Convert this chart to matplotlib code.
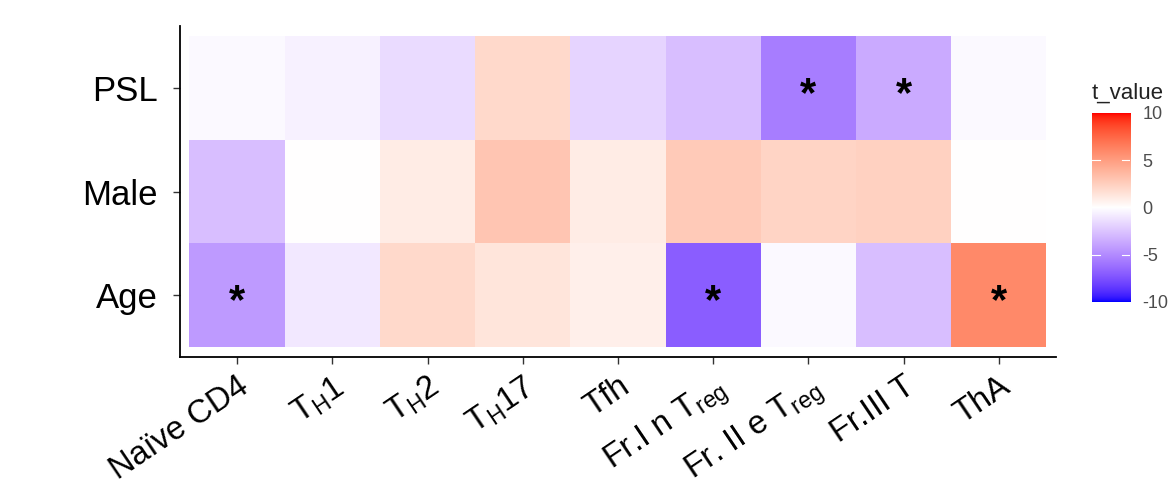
import numpy as np
import matplotlib
matplotlib.use("Agg")
from matplotlib import pyplot as plt
from matplotlib.colors import ListedColormap, Normalize
from matplotlib.transforms import ScaledTranslation

plt.rcParams['font.family'] = ['Liberation Sans', 'DejaVu Sans']

cells = ["Naïve CD4", r"T$_\mathregular{H}$1", r"T$_\mathregular{H}$2", r"T$_\mathregular{H}$17", "Tfh",
         r"Fr.I n T$_\mathregular{reg}$", r"Fr. II e T$_\mathregular{reg}$", "Fr.III T", "ThA"]
terms = ["Age", "Male", "PSL"]  # bottom to top

t_age = [-4.3, -1.0, 2.0, 1.4, 0.8, -7.0, -0.3, -2.8, 6.0]
t_male = [-2.8, 0.0, 1.0, 3.0, 1.0, 2.8, 2.2, 2.4, 0.0]
t_psl = [-0.3, -0.6, -1.5, 2.0, -1.8, -2.8, -5.6, -3.6, -0.3]

sig_age = [1, 0, 0, 0, 0, 1, 0, 0, 1]
sig_male = [0, 0, 0, 0, 0, 0, 0, 0, 0]
sig_psl = [0, 0, 0, 0, 0, 0, 1, 1, 0]

t_values = np.array([t_age, t_male, t_psl])
stars = np.array([sig_age, sig_male, sig_psl])


# gradient2 style colour scale: blue - white - red, interpolated in Lab
def to_lab(rgb):
    rgb = np.asarray(rgb, float)
    lin = np.where(rgb > 0.04045, ((rgb + 0.055) / 1.055) ** 2.4, rgb / 12.92)
    m = np.array([[0.4124, 0.3576, 0.1805], [0.2126, 0.7152, 0.0722], [0.0193, 0.1192, 0.9505]])
    xyz = m @ lin / np.array([0.95047, 1.0, 1.08883])
    f = np.where(xyz > 0.008856, np.cbrt(xyz), 7.787 * xyz + 16 / 116)
    return np.array([116 * f[1] - 16, 500 * (f[0] - f[1]), 200 * (f[1] - f[2])])


def to_rgb(lab):
    fy = (lab[0] + 16) / 116
    f = np.array([fy + lab[1] / 500, fy, fy - lab[2] / 200])
    xyz = np.where(f ** 3 > 0.008856, f ** 3, (f - 16 / 116) / 7.787) * np.array([0.95047, 1.0, 1.08883])
    m = np.array([[3.2406, -1.5372, -0.4986], [-0.9689, 1.8758, 0.0415], [0.0557, -0.2040, 1.0570]])
    lin = m @ xyz
    rgb = np.where(lin > 0.0031308, 1.055 * np.clip(lin, 0, None) ** (1 / 2.4) - 0.055, 12.92 * lin)
    return np.clip(rgb, 0, 1)


lab_blue, lab_white, lab_red = to_lab([0, 0, 1]), to_lab([1, 1, 1]), to_lab([1, 0, 0])
colors = []
for s in np.linspace(-1, 1, 256):
    if s < 0:
        lab = lab_white + (lab_blue - lab_white) * (-s)
    else:
        lab = lab_white + (lab_red - lab_white) * s
    colors.append(to_rgb(lab))
cmap = ListedColormap(colors)
norm = Normalize(-10, 10)

fig = plt.figure(figsize=(11.7, 4.98), dpi=100)
ax = fig.add_axes([0.1538, 0.2831, 0.7487, 0.6647])

ax.pcolormesh(np.arange(len(cells) + 1) - 0.5, np.arange(len(terms) + 1) - 0.5, t_values,
              cmap=cmap, norm=norm)
for i in range(len(terms)):
    for j in range(len(cells)):
        if stars[i, j]:
            ax.text(j, i - 0.07, "*", ha='center', va='center', fontsize=30,
                    fontweight='bold', color='black')

ax.set_xlim(-0.6, len(cells) - 0.4)
ax.set_ylim(-0.6, len(terms) - 0.4)
ax.set_xticks(range(len(cells)))
ax.set_xticklabels(cells, rotation=34, ha='right', rotation_mode='anchor', fontsize=23.5)
offset = ScaledTranslation(17 / 100, -5 / 100, fig.dpi_scale_trans)
for lbl in ax.get_xticklabels():
    lbl.set_transform(lbl.get_transform() + offset)
ax.set_yticks(range(len(terms)))
ax.set_yticklabels(terms, fontsize=25)
for sp in ['top', 'right']:
    ax.spines[sp].set_visible(False)
for sp in ['left', 'bottom']:
    ax.spines[sp].set_linewidth(1.3)
ax.tick_params(length=5, width=1, color='#333333')
ax.tick_params(axis='y', pad=11)
ax.tick_params(axis='x', pad=5)

# colour bar
cax = fig.add_axes([0.9333, 0.3936, 0.0325, 0.3795])
grad = np.linspace(-10, 10, 256).reshape(-1, 1)
cax.imshow(grad, cmap=cmap, norm=norm, aspect='auto', origin='lower', extent=[0, 1, -10, 10])
cax.set_xticks([])
cax.yaxis.tick_right()
cax.set_yticks([-10, -5, 0, 5, 10])
cax.set_yticklabels(["-10", "-5", "0", "5", "10"], fontsize=13, color='#4d4d4d')
cax.tick_params(axis='y', length=0, pad=9)
for v in [-5, 0, 5]:
    cax.plot([0, 0.2], [v, v], color='white', lw=0.8)
    cax.plot([0.8, 1], [v, v], color='white', lw=0.8)
cax.set_xlim(0, 1)
cax.set_ylim(-10, 10)
for sp in cax.spines.values():
    sp.set_visible(False)
cax.set_title("t_value", fontsize=16, loc='left', pad=10, x=-0.02, color='#222222')

fig.savefig("out.png", dpi=100)
